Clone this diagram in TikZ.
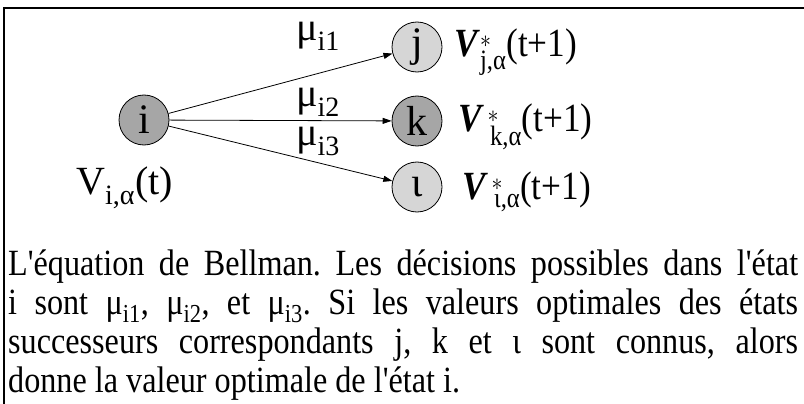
\documentclass[tikz,border=0pt]{standalone}
\usepackage{amsmath}
\usepackage{fontspec}
\setmainfont{Liberation Serif}
\newfontfamily\plainserif{Liberation Serif}
\usetikzlibrary{arrows.meta}

\tikzset{
  statenode/.style={circle, draw, line width=0.8pt, minimum size=50pt, inner sep=0pt,
    font=\plainserif\fontsize{42}{42}\selectfont},
  darkstate/.style={statenode, fill=black!35},
  lightstate/.style={statenode, fill=black!16},
  move/.style={-{Triangle[length=9pt, width=6pt]}, line width=0.8pt},
  lbl/.style={inner sep=0pt, font=\plainserif\fontsize{40}{40}\selectfont},
  capline/.style={anchor=base west, inner sep=0pt, xscale=0.87,
    font=\plainserif\fontsize{37}{37}\selectfont\frenchspacing},
}
\newcommand{\fullline}[1]{\hbox to 908pt{#1}}

\begin{document}
\begin{tikzpicture}[x=1pt, y=-1pt]
    \useasboundingbox (0,0) rectangle (804,404);
    \draw[line width=1.2pt] (4,404) -- (4,8) -- (804,8);

    \node[darkstate]  (i) at (144,120) {i};
    \node[lightstate] (j) at (417,47)  {j};
    \node[darkstate]  (k) at (417,121) {k};
    \node[lightstate] (l) at (417,187) {ι};

    \draw[move] (i) -- (j);
    \draw[move] (i) -- (k);
    \draw[move] (i) -- (l);

    \node[lbl] (mu1) at (318,36)  {μ$_{\text{i1}}$};
    \node[lbl] (mu2) at (318,102) {μ$_{\text{i2}}$};
    \node[lbl] (mu3) at (318,141) {μ$_{\text{i3}}$};

    \node[lbl, anchor=west, xscale=0.88] (vj) at (454,52)  {\textbf{\textit{V}}$^{*}_{\text{j,α}}$(t+1)};
    \node[lbl, anchor=west, xscale=0.88] (vk) at (458,127) {\textbf{\textit{V}}$^{\,*}_{\;\text{k,α}}$(t+1)};
    \node[lbl, anchor=west, xscale=0.88] (vl) at (462,192) {\textbf{\textit{V}}$^{\,*}_{\;\text{ι,α}}$(t+1)};
    \node[lbl, anchor=west] (vi) at (76,188)  {V$_{\text{i,α}}$(t)};

    % caption, one node per line
    \node[capline] (cap1) at (8,275) {\fullline{L'équation de Bellman. Les décisions possibles dans l'état}};
    \node[capline] (cap2) at (8,314) {\fullline{i sont μ$_{\text{i1}}$, μ$_{\text{i2}}$, et μ$_{\text{i3}}$. Si les valeurs optimales des états}};
    \node[capline] (cap3) at (8,353) {\fullline{successeurs correspondants j, k et ι sont connus, alors}};
    \node[capline] (cap4) at (8,392) {donne la valeur optimale de l'état i.};
\end{tikzpicture}
\end{document}
